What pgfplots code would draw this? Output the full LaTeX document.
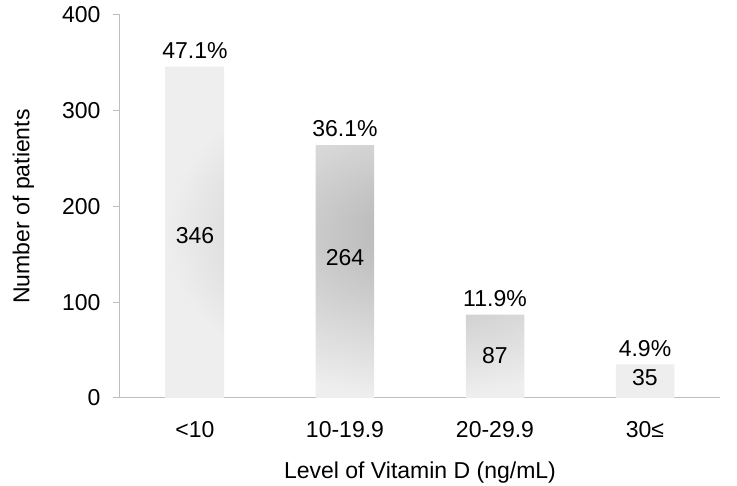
\documentclass[border=0pt]{standalone}
\usepackage{pgfplots}
\pgfplotsset{compat=1.18}
\usepackage{fontspec}
\setmainfont{Liberation Sans}
\definecolor{axisgray}{RGB}{190,190,190}
\definecolor{barin}{RGB}{178,178,178}
\definecolor{barout}{RGB}{238,238,238}
\begin{document}
\begin{tikzpicture}
\begin{axis}[
  at={(0,0)}, anchor=south west,
  scale only axis, width=600pt, height=383pt,
  font=\fontsize{23pt}{27pt}\selectfont,
  /pgf/number format/assume math mode=true,
  xmin=-0.5, xmax=3.5, ymin=0, ymax=400,
  axis lines=left,
  axis line style={axisgray, line width=1pt, -},
  ytick={0,100,200,300,400},
  xtick={0,1,2,3},
  xticklabels={<10,10-19.9,20-29.9,30≤},
  x tick style={draw=none},
  extra x ticks={0.5,1.5,2.5,3.5},
  extra x tick labels={},
  extra x tick style={major tick length=8pt, tick style={axisgray, line width=1pt}},
  tick align=outside,
  y tick style={axisgray, line width=1pt},
  major tick length=7pt,
  yticklabel style={xshift=-9pt},
  xticklabel style={yshift=-13pt},
  xlabel={Level of Vitamin D (ng/mL)},
  ylabel={Number of patients},
  xlabel style={yshift=-2pt},
  ylabel style={yshift=21pt},
  clip=false,
]
\addplot[ybar, bar width=0.39, draw=none, shading=radial, inner color=barin, outer color=barout,
  nodes near coords, point meta=explicit symbolic,
  every node near coord/.append style={black, anchor=south, inner sep=4pt, yshift=4pt}]
  coordinates {(0,346)[47.1\%] (1,264)[36.1\%] (2,87)[11.9\%] (3,35)[4.9\%]};
\addplot[draw=none, mark=none, nodes near coords, point meta=explicit symbolic,
  every node near coord/.append style={black, anchor=center}]
  coordinates {(0,170)[346] (1,147)[264] (2,44)[87] (3,21)[35]};
\end{axis}
\pgfresetboundingbox
\path (-120pt,-88pt) rectangle (617pt,398pt);
\end{tikzpicture}
\end{document}
